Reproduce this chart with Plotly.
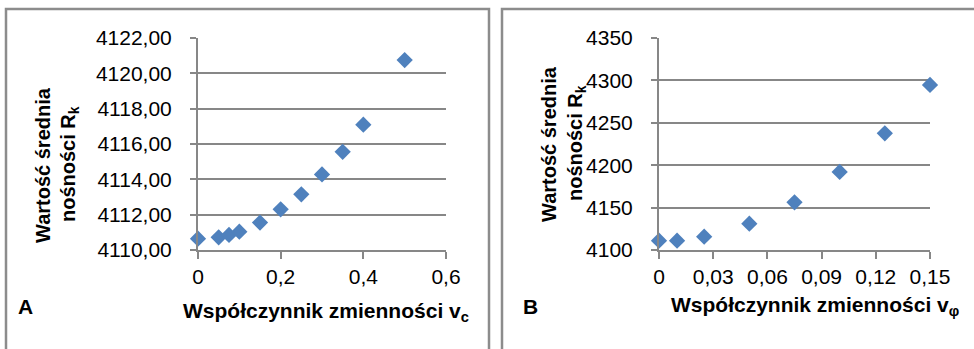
import plotly.graph_objects as go

# Panel A: coefficient of variation v_c vs mean load capacity R_k
vc = [0, 0.05, 0.075, 0.1, 0.15, 0.2, 0.25, 0.3, 0.35, 0.4, 0.5]
rk_a = [4110.64, 4110.72, 4110.85, 4111.04, 4111.55, 4112.30, 4113.15,
        4114.28, 4115.56, 4117.09, 4120.75]
a_xticks = [0, 0.2, 0.4, 0.6]
a_xlabels = ["0", "0,2", "0,4", "0,6"]
a_yticks = [4110, 4112, 4114, 4116, 4118, 4120, 4122]
a_ylabels = ["4110,00", "4112,00", "4114,00", "4116,00", "4118,00",
             "4120,00", "4122,00"]

# Panel B: coefficient of variation v_phi vs mean load capacity R_k
vphi = [0, 0.01, 0.025, 0.05, 0.075, 0.1, 0.125, 0.15]
rk_b = [4111, 4111, 4115.7, 4131, 4156.2, 4192, 4237.6, 4294.6]
b_xticks = [0, 0.03, 0.06, 0.09, 0.12, 0.15]
b_xlabels = ["0", "0,03", "0,06", "0,09", "0,12", "0,15"]
b_yticks = [4100, 4150, 4200, 4250, 4300, 4350]
b_ylabels = ["4100", "4150", "4200", "4250", "4300", "4350"]

W, H = 974, 349
FONT = "Liberation Sans, Arial, sans-serif"
GRID = "#878787"
BLUE = "#4F81BD"


def px_x(p):
    return p / W


def px_y(p):
    return 1 - p / H


fig = go.Figure()
marker = dict(symbol="diamond", size=12.5, color=BLUE, line=dict(width=0))
fig.add_trace(go.Scatter(x=vc, y=rk_a, mode="markers", marker=marker,
                         cliponaxis=False, xaxis="x", yaxis="y"))
fig.add_trace(go.Scatter(x=vphi, y=rk_b, mode="markers", marker=marker,
                         cliponaxis=False, xaxis="x2", yaxis="y2"))

tickfont = dict(family=FONT, size=21, color="#000000")


def xaxis(dom, rng, vals, labels, anchor):
    return dict(domain=dom, range=rng, tickvals=vals, ticktext=labels,
                showgrid=False, zeroline=False, showline=True,
                linecolor=GRID, linewidth=2, ticks="outside", ticklen=7,
                tickwidth=2, tickcolor=GRID, tickfont=tickfont,
                ticklabelstandoff=0, anchor=anchor, fixedrange=True,
                automargin=False)


def yaxis(dom, rng, vals, labels, anchor):
    return dict(domain=dom, range=rng, tickvals=vals, ticktext=labels,
                showgrid=True, gridcolor=GRID, gridwidth=2, zeroline=False,
                showline=True, linecolor=GRID, linewidth=2, ticks="outside",
                ticklen=6, tickwidth=2, tickcolor=GRID, tickfont=tickfont,
                ticklabelstandoff=14, anchor=anchor, fixedrange=True,
                automargin=False)


ydom = [px_y(250), px_y(38)]
fig.update_layout(
    width=W, height=H, margin=dict(l=0, r=0, t=0, b=0, pad=0),
    font=dict(family=FONT, size=20, color="#000000"),
    paper_bgcolor="white", plot_bgcolor="white", showlegend=False,
    xaxis=xaxis([px_x(198), px_x(446)], [0, 0.6], a_xticks, a_xlabels, "y"),
    yaxis=yaxis(ydom, [4110, 4122], a_yticks, a_ylabels, "x"),
    xaxis2=xaxis([px_x(659), px_x(930)], [0, 0.15], b_xticks, b_xlabels, "y2"),
    yaxis2=yaxis(ydom, [4100, 4350], b_yticks, b_ylabels, "x2"),
)

# Panel frames
frame = dict(color="#8c8c8c", width=2.5)
fig.add_shape(type="path", xref="paper", yref="paper", line=frame,
              path=f"M {px_x(6)} {px_y(352)} L {px_x(6)} {px_y(9)} "
                   f"L {px_x(489)} {px_y(9)} L {px_x(489)} {px_y(352)}")
fig.add_shape(type="path", xref="paper", yref="paper", line=frame,
              path=f"M {px_x(502)} {px_y(352)} L {px_x(502)} {px_y(9)} "
                   f"L {px_x(978)} {px_y(9)}")


def note(text, x, y, angle=0, size=20):
    f = dict(family=FONT, size=size, color="#000000")
    fig.add_annotation(text=f"<b>{text}</b>", xref="paper", yref="paper",
                       x=px_x(x), y=px_y(y), xanchor="center",
                       yanchor="middle", showarrow=False, textangle=angle,
                       font=f)


# Axis titles
note("Wartość średnia", 43, 165, -90, 20)
note("nośności R<sub>k</sub>", 70, 164, -90, 20)
note("Współczynnik zmienności v<sub>c</sub>", 326, 312, 0, 21)
note("Wartość średnia", 549, 144, -90, 20)
note("nośności R<sub>k</sub>", 576, 143, -90, 20)
note("Współczynnik zmienności v<sub>φ</sub>", 815, 306, 0, 21)

# Panel letters
note("A", 25, 306, 0, 21)
note("B", 530, 306, 0, 21)

fig.write_html("out.html")
